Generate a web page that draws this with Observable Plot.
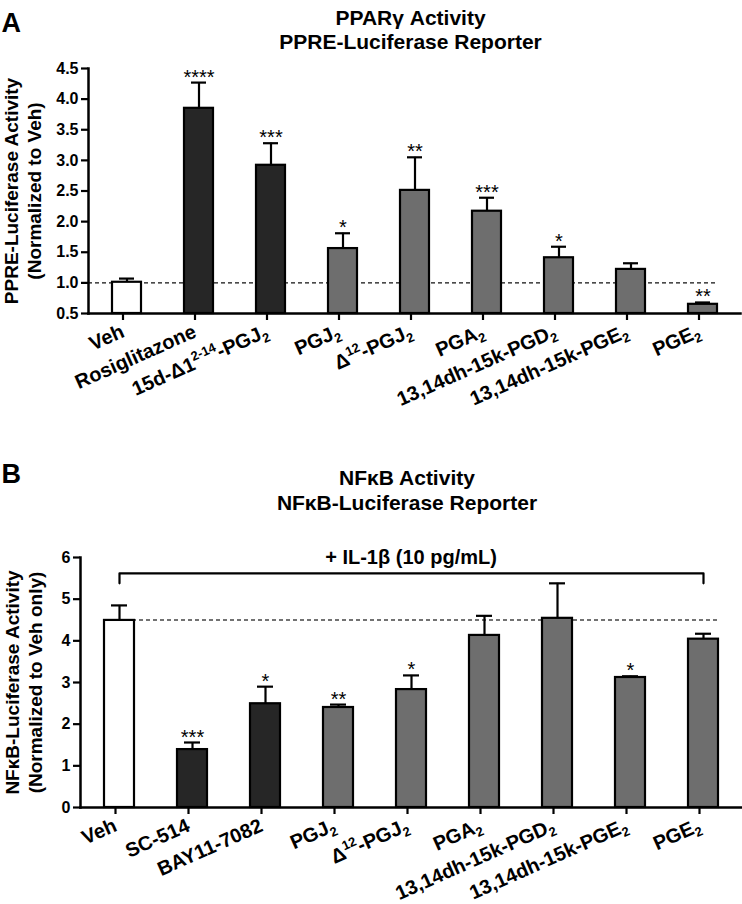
<!DOCTYPE html>
<html>
<head>
<meta charset="utf-8">
<script src="https://cdn.jsdelivr.net/npm/d3@7"></script>
<script src="https://cdn.jsdelivr.net/npm/@observablehq/plot@0.6"></script>
<style>
  body { margin: 0; background: #fff; }
  #chart { width: 742px; }
  #chart svg { display: block; font-family: "Liberation Sans", Arial, sans-serif; }
</style>
</head>
<body>
<div id="chart"></div>
<script>
// ---------- Panel A data ----------
const categoriesA = ["Veh", "Rosiglitazone", "15d-Δ1²⁻¹⁴-PGJ₂", "PGJ₂", "Δ¹²-PGJ₂", "PGA₂", "13,14dh-15k-PGD₂", "13,14dh-15k-PGE₂", "PGE₂"];
const valuesA = [1.01, 3.85, 2.92, 1.56, 2.51, 2.17, 1.41, 1.22, 0.65];
const errTopA = [1.07, 4.27, 3.28, 1.81, 3.05, 2.39, 1.59, 1.32, 0.68];
const starsA = ["", "****", "***", "*", "**", "***", "*", "", "**"];
const groupsA = ["vehicle", "control", "control", "test", "test", "test", "test", "test", "test"];
const ticksA = [0.5, 1.0, 1.5, 2.0, 2.5, 3.0, 3.5, 4.0, 4.5];
const refA = 1.0;

// ---------- Panel B data ----------
const categoriesB = ["Veh", "SC-514", "BAY11-7082", "PGJ₂", "Δ¹²-PGJ₂", "PGA₂", "13,14dh-15k-PGD₂", "13,14dh-15k-PGE₂", "PGE₂"];
const valuesB = [4.49, 1.39, 2.49, 2.40, 2.83, 4.13, 4.54, 3.12, 4.04];
const errTopB = [4.85, 1.56, 2.90, 2.47, 3.17, 4.60, 5.38, 3.15, 4.17];
const starsB = ["", "***", "*", "**", "*", "", "", "*", ""];
const groupsB = ["vehicle", "control", "control", "test", "test", "test", "test", "test", "test"];
const ticksB = [0, 1, 2, 3, 4, 5, 6];
const refB = 4.5;
const bracketB = [5.38, 5.62]; // IL-1β bracket: end drop level, top level

const groupDomain = ["vehicle", "control", "test"];
const groupColors = ["#ffffff", "#262626", "#6e6e6e"];

const rows = (cats, vals, errs, stars, groups) =>
  cats.map((c, i) => ({cat: c, value: vals[i], err: errs[i], star: stars[i], group: groups[i]}));
const rowsA = rows(categoriesA, valuesA, errTopA, starsA, groupsA);
const rowsB = rows(categoriesB, valuesB, errTopB, starsB, groupsB);

const FONT = '"Liberation Sans", Arial, sans-serif';
const XFS = 20;

const SUP = {"⁰":"0","¹":"1","²":"2","³":"3","⁴":"4","⁵":"5","⁶":"6","⁷":"7","⁸":"8","⁹":"9","⁻":"-"};
const SUB = {"₀":"0","₁":"1","₂":"2","₃":"3","₄":"4","₅":"5","₆":"6","₇":"7","₈":"8","₉":"9"};
function richify(svg, fs) {
  svg.querySelectorAll('g[aria-label="x-axis tick label"] text').forEach(t => {
    const s = t.textContent;
    if (![...s].some(ch => SUP[ch] || SUB[ch])) return;
    const runs = [];
    for (const ch of s) {
      const kind = SUP[ch] ? "sup" : SUB[ch] ? "sub" : "n";
      const c = SUP[ch] || SUB[ch] || ch;
      if (runs.length && runs[runs.length - 1].kind === kind) runs[runs.length - 1].text += c;
      else runs.push({kind, text: c});
    }
    t.textContent = "";
    let shift = 0;
    runs.forEach((r) => {
      const ts = document.createElementNS("http://www.w3.org/2000/svg", "tspan");
      const target = r.kind === "sup" ? -0.42 * fs : r.kind === "sub" ? 0.22 * fs : 0;
      if (target !== shift) ts.setAttribute("dy", (target - shift).toFixed(2));
      shift = target;
      if (r.kind !== "n") ts.setAttribute("font-size", (fs * 0.65).toFixed(1));
      ts.textContent = r.text;
      t.appendChild(ts);
    });
  });
}

function panel(opts) {
  const {rows, cats, domain, ticks, tickFormat, ref, refStroke, refInsetLeft, refInsetRight,
         height, mt, mb, ml, mr, padIn, padOut, title1, title2, t1dy, t2dy, letter, letterDy,
         ylab1, ylab2, ylab1dx, ylab2dx, extra} = opts;
  const svg = Plot.plot({
    width: 742, height,
    marginTop: mt, marginBottom: mb, marginLeft: ml, marginRight: mr,
    style: {fontFamily: FONT, background: "white", color: "black", overflow: "visible"},
    x: {type: "band", domain: cats, paddingInner: padIn, paddingOuter: padOut, label: null},
    y: {domain, label: null},
    color: {type: "ordinal", domain: groupDomain, range: groupColors},
    marks: [
      Plot.ruleY([ref], {stroke: refStroke, strokeWidth: 1.3, strokeDasharray: "4,3",
                         insetLeft: refInsetLeft, insetRight: refInsetRight}),
      Plot.barY(rows, {x: "cat", y1: domain[0], y2: "value", fill: "group", stroke: "black", strokeWidth: 2.2}),
      Plot.ruleX(rows, {x: "cat", y1: "value", y2: "err", stroke: "black", strokeWidth: 2.2}),
      Plot.tickY(rows, {x: "cat", y: "err", stroke: "black", strokeWidth: 2.2, insetLeft: 7, insetRight: 7}),
      Plot.text(rows, {x: "cat", y: "err", text: "star", lineAnchor: "bottom", dy: 1, fontSize: 20, fill: "black"}),
      Plot.axisY({ticks, tickFormat, tickSize: 7, tickPadding: 3, strokeWidth: 2.2, fontSize: 16,
                  fontWeight: "bold", label: null, fill: "black"}),
      Plot.axisX({tickSize: 7, tickPadding: 10, dx: -4, tickRotate: -24, strokeWidth: 2.2, fontSize: XFS,
                  fontWeight: "bold", label: null, fill: "black"}),
      Plot.frame({anchor: "left", strokeWidth: 2.5, stroke: "black"}),
      Plot.frame({anchor: "bottom", strokeWidth: 2.5, stroke: "black"}),
      Plot.text([title1], {frameAnchor: "top", dx: -4, dy: t1dy, fontSize: 21, fontWeight: "bold", fill: "black"}),
      Plot.text([title2], {frameAnchor: "top", dx: -4, dy: t2dy, fontSize: 21, fontWeight: "bold", fill: "black"}),
      Plot.text([letter], {frameAnchor: "top-left", dx: -ml + 1, dy: letterDy, textAnchor: "start",
                           fontSize: 27, fontWeight: "bold", fill: "black"}),
      Plot.text([ylab1], {frameAnchor: "left", textAnchor: "middle", dx: ylab1dx, rotate: -90, fontSize: 19, fontWeight: "bold", fill: "black"}),
      Plot.text([ylab2], {frameAnchor: "left", textAnchor: "middle", dx: ylab2dx, rotate: -90, fontSize: 19, fontWeight: "bold", fill: "black"}),
      ...(extra || [])
    ]
  });
  richify(svg, XFS);
  return svg;
}

const svgA = panel({
  rows: rowsA, cats: categoriesA, domain: [0.5, 4.5], ticks: ticksA, tickFormat: d => d.toFixed(1),
  ref: refA, refStroke: "#111", refInsetLeft: 0, refInsetRight: 22,
  height: 450, mt: 68, mb: 137, ml: 88, mr: 2, padIn: 0.6, padOut: 0.31,
  title1: "PPARγ Activity", title2: "PPRE-Luciferase Reporter", t1dy: -58, t2dy: -34,
  letter: "A", letterDy: -56,
  ylab1: "PPRE-Luciferase Activity", ylab2: "(Normalized to Veh)", ylab1dx: -77, ylab2dx: -54
});

const bracketData = [
  {cat: categoriesB[0], v: bracketB[0]},
  {cat: categoriesB[0], v: bracketB[1]},
  {cat: categoriesB[categoriesB.length - 1], v: bracketB[1]},
  {cat: categoriesB[categoriesB.length - 1], v: bracketB[0]}
];

const svgB = panel({
  rows: rowsB, cats: categoriesB, domain: [0, 6], ticks: ticksB, tickFormat: d => String(d),
  ref: refB, refStroke: "#444", refInsetLeft: 52, refInsetRight: 23,
  height: 454, mt: 107, mb: 97, ml: 80, mr: 1, padIn: 0.59, padOut: 0.3,
  title1: "NFκB Activity", title2: "NFκB-Luciferase Reporter", t1dy: -87, t2dy: -62,
  letter: "B", letterDy: -94,
  ylab1: "NFκB-Luciferase Activity", ylab2: "(Normalized to Veh only)", ylab1dx: -68, ylab2dx: -45,
  extra: [
    Plot.line(bracketData, {x: "cat", y: "v", stroke: "black", strokeWidth: 2.2}),
    Plot.text(["+ IL-1β (10 pg/mL)"], {frameAnchor: "top", dy: -8, fontSize: 20, fontWeight: "bold", fill: "black"})
  ]
});

document.getElementById("chart").append(svgA, svgB);
</script>
</body>
</html>
